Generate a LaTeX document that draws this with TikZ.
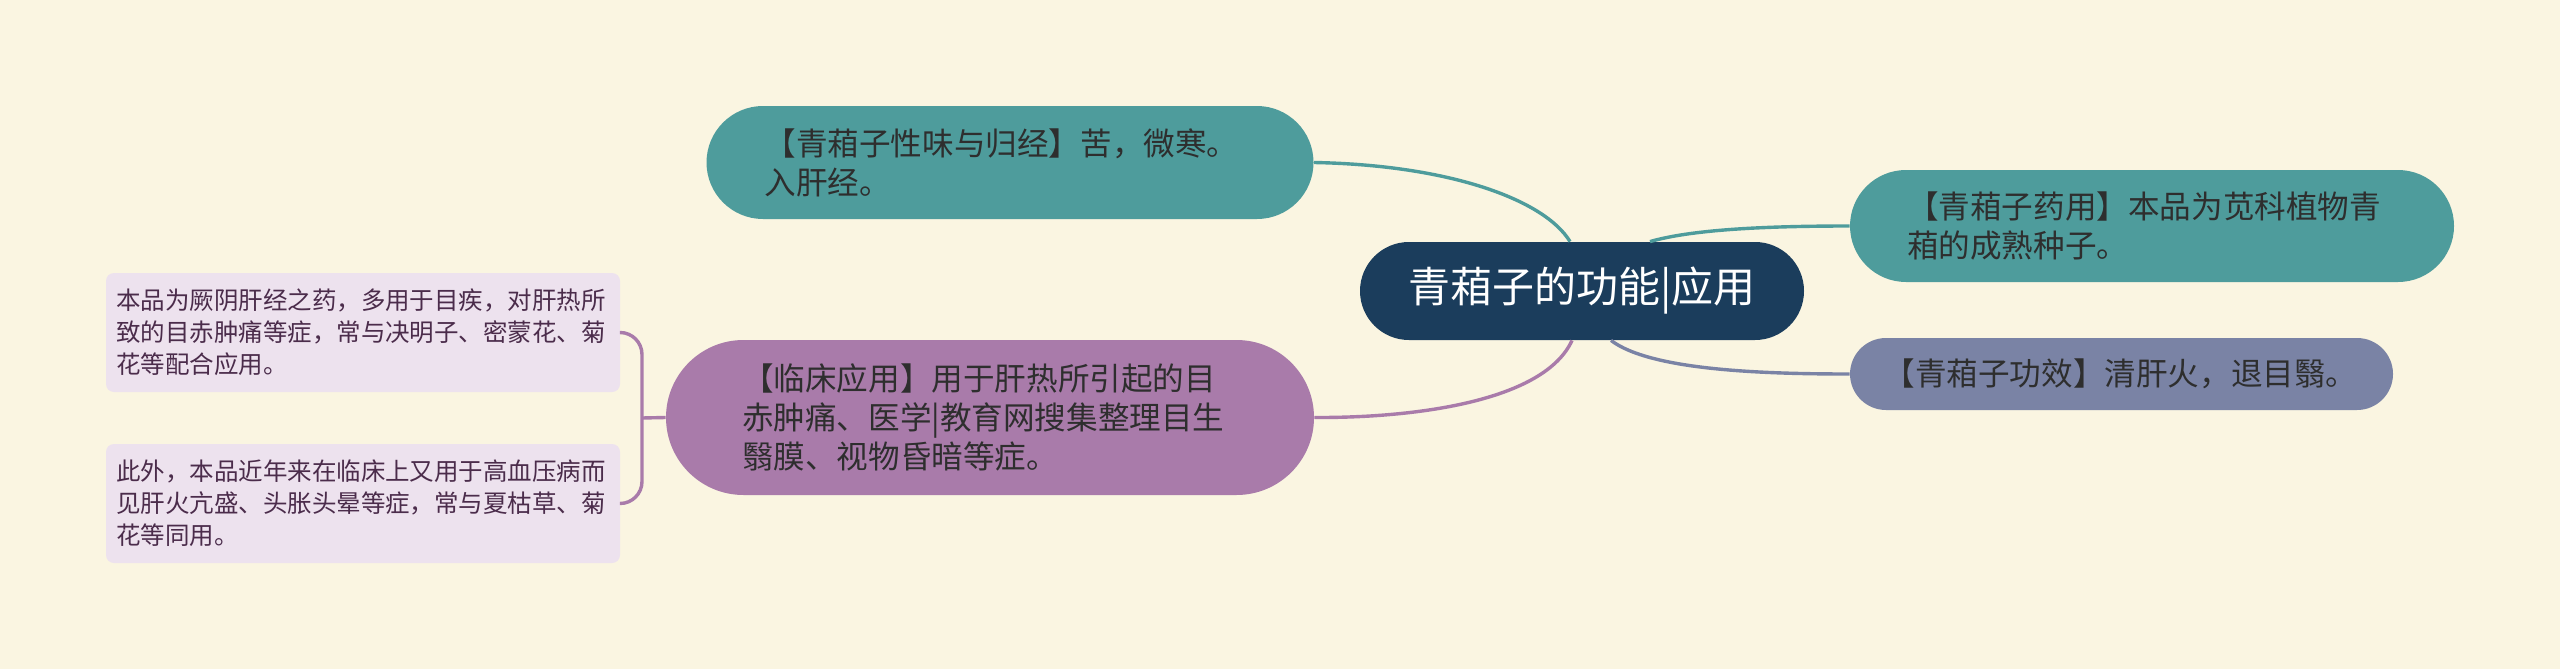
\documentclass[tikz,border=0pt]{standalone}
\usepackage{fontspec}
\setmainfont{Noto Sans CJK SC}
\usepackage{tikz}
\usetikzlibrary{calc}
\definecolor{bgcream}{HTML}{FAF5E1}
\definecolor{rootblue}{HTML}{1B3D5C}
\definecolor{tealfill}{HTML}{4E9C9C}
\definecolor{slatefill}{HTML}{7A83A5}
\definecolor{plumfill}{HTML}{A97BAA}
\definecolor{leaffill}{HTML}{EDE2EE}
\definecolor{leaftext}{HTML}{4B2C4B}
\definecolor{darktext}{HTML}{2E2E2E}

\begin{document}
\begin{tikzpicture}[x=0.5pt, y=-0.5pt,
  root/.style = {shape=rectangle, fill=rootblue, text=white,
    font=\fontsize{21}{25}\selectfont, inner sep=0pt,
    minimum width=222pt, minimum height=49pt, rounded corners=24.5pt},
  branch/.style = {shape=rectangle, text=darktext, align=left, inner ysep=0pt,
    font=\fontsize{15.8}{19.5}\selectfont},
  leaf/.style = {shape=rectangle, fill=leaffill, text=leaftext, align=left,
    font=\fontsize{12.25}{16}\selectfont, inner ysep=0pt,
    text width=247pt, inner xsep=5pt, minimum height=59.5pt, rounded corners=4pt},
  link/.style = {line width=1.7pt}]
  \fill[bgcream] (0,0) rectangle (2560,669);

  \node[root] (qxz) at (1582,291) {青葙子的功能|应用};

  \node[branch, fill=tealfill, text width=245.5pt, inner xsep=29pt,
    minimum height=56.5pt, rounded corners=28.25pt] (xingwei) at (1010,162.5)
    {【青葙子性味与归经】苦，微寒。\\入肝经。};
  \node[branch, fill=tealfill, text width=245pt, inner xsep=28.5pt,
    minimum height=56pt, rounded corners=28pt] (yaoyong) at (2152,226)
    {【青葙子药用】本品为苋科植物青\\葙的成熟种子。};
  \node[branch, fill=slatefill, text width=238pt, inner xsep=16.75pt,
    minimum height=36pt, rounded corners=18pt] (gongxiao) at (2121.5,374)
    {【青葙子功效】清肝火，退目翳。};
  \node[branch, fill=plumfill, text width=248pt, inner xsep=38pt,
    minimum height=77.5pt, rounded corners=38.75pt] (linchuang) at (990,417.5)
    {【临床应用】用于肝热所引起的目\\赤肿痛、医学|教育网搜集整理目生\\翳膜、视物昏暗等症。};

  \node[leaf] (peihe) at (363,332.5)
    {本品为厥阴肝经之药，多用于目疾，对肝热所\\致的目赤肿痛等症，常与决明子、密蒙花、菊\\花等配合应用。};
  \node[leaf] (tongyong) at (363,503.5)
    {此外，本品近年来在临床上又用于高血压病而\\见肝火亢盛、头胀头晕等症，常与夏枯草、菊\\花等同用。};

  \draw[link, tealfill] (xingwei.east) .. controls (1450,165) and (1545,200) .. ($(qxz.north)+(-12,0)$);
  \draw[link, tealfill] ($(qxz.north)+(68,0)$) .. controls (1690,230) and (1760,226) .. (yaoyong.west);
  \draw[link, slatefill] ($(qxz.south)+(29,0)$) .. controls (1650,370) and (1760,374) .. (gongxiao.west);
  \draw[link, plumfill] ($(qxz.south)+(-10,0)$) .. controls (1545,400) and (1420,418) .. (linchuang.east);

  \coordinate (brace) at (642,418);
  \draw[link, plumfill, rounded corners=11pt] (peihe.east) -| (brace) |- (tongyong.east);
  \draw[link, plumfill] (brace) -- (linchuang.west);
\end{tikzpicture}
\end{document}
